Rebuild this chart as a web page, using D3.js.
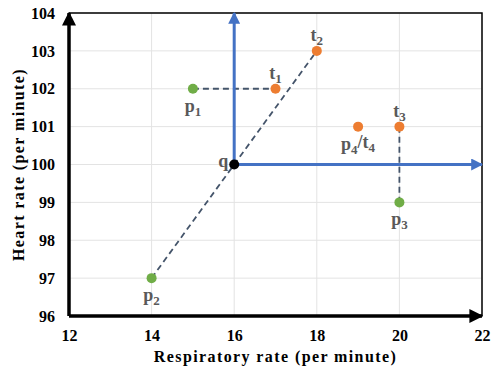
<!DOCTYPE html>
<html>
<head>
<meta charset="utf-8">
<script src="https://cdn.jsdelivr.net/npm/d3@7"></script>
<style>
  body { margin: 0; background: #fff; }
  text { font-family: "Liberation Serif", "Times New Roman", serif; font-weight: bold; }
</style>
</head>
<body>
<svg id="chart" width="498" height="374"></svg>
<script>
// tick values
const xTicks = [12, 14, 16, 18, 20, 22];
const yTicks = [96, 97, 98, 99, 100, 101, 102, 103, 104];

// original patients (green)
const pNames = ['p1', 'p2', 'p3'];
const pX = [15, 14, 20];
const pY = [102, 97, 99];

// counterfactual targets (orange)
const tNames = ['t1', 't2', 't3', 'p4/t4'];
const tX = [17, 18, 20, 19];
const tY = [102, 103, 101, 101];

// query point
const qX = 16, qY = 100;

// dashed links between points [x1, y1, x2, y2]
const links = [
  [15, 102, 17, 102],
  [14, 97, 18, 103],
  [20, 101, 20, 99]
];

const width = 498, height = 374;
const margin = { top: 13, right: 16, bottom: 58, left: 69 };

const svg = d3.select('#chart');

const x = d3.scaleLinear().domain([12, 22]).range([margin.left, width - margin.right]);
const y = d3.scaleLinear().domain([96, 104]).range([height - margin.bottom, margin.top]);

const defs = svg.append('defs');
function arrowHead(id, color) {
  defs.append('marker')
    .attr('id', id)
    .attr('viewBox', '0 0 10 10')
    .attr('refX', 9).attr('refY', 5)
    .attr('markerWidth', 4).attr('markerHeight', 4)
    .attr('orient', 'auto')
    .append('path')
    .attr('d', 'M0,0L10,5L0,10z')
    .attr('fill', color);
}
arrowHead('blackArrow', '#000');
arrowHead('blueArrow', '#4472C4');

// gridlines
svg.append('g')
  .selectAll('line')
  .data(yTicks.slice(1))
  .join('line')
  .attr('x1', x(12)).attr('x2', x(22))
  .attr('y1', d => y(d)).attr('y2', d => y(d))
  .attr('stroke', '#e3e3e3').attr('stroke-width', 1);

svg.append('g')
  .selectAll('line')
  .data(xTicks.slice(1))
  .join('line')
  .attr('x1', d => x(d)).attr('x2', d => x(d))
  .attr('y1', y(96)).attr('y2', y(104))
  .attr('stroke', '#e3e3e3').attr('stroke-width', 1);

// thin frame top + right
svg.append('path')
  .attr('d', `M${x(12)},${y(104)}H${x(22)}V${y(96)}`)
  .attr('fill', 'none')
  .attr('stroke', '#000')
  .attr('stroke-width', 1.5);

// axes (ticks as text only)
const xAxis = svg.append('g')
  .attr('transform', `translate(0,${y(96)})`)
  .call(d3.axisBottom(x).tickValues(xTicks).tickSize(0).tickPadding(14));
const yAxis = svg.append('g')
  .attr('transform', `translate(${x(12)},0)`)
  .call(d3.axisLeft(y).tickValues(yTicks).tickSize(0).tickPadding(14));
[xAxis, yAxis].forEach(g => {
  g.select('.domain').remove();
  g.selectAll('text').attr('font-size', 16).attr('fill', '#000')
    .style('font-family', '"Liberation Serif", serif').style('font-weight', 'bold');
});

// thick black axis lines with arrows
svg.append('line')
  .attr('x1', x(12)).attr('y1', y(96))
  .attr('x2', x(22)).attr('y2', y(96))
  .attr('stroke', '#000').attr('stroke-width', 3.5)
  .attr('marker-end', 'url(#blackArrow)');
svg.append('line')
  .attr('x1', x(12)).attr('y1', y(96))
  .attr('x2', x(12)).attr('y2', y(104))
  .attr('stroke', '#000').attr('stroke-width', 3.5)
  .attr('marker-end', 'url(#blackArrow)');

// dashed links
svg.append('g')
  .selectAll('line')
  .data(links)
  .join('line')
  .attr('x1', d => x(d[0])).attr('y1', d => y(d[1]))
  .attr('x2', d => x(d[2])).attr('y2', d => y(d[3]))
  .attr('stroke', '#44546A')
  .attr('stroke-width', 1.8)
  .attr('stroke-dasharray', '6,4');

// blue arrows from q
svg.append('line')
  .attr('x1', x(qX)).attr('y1', y(qY))
  .attr('x2', x(qX)).attr('y2', y(104))
  .attr('stroke', '#4472C4').attr('stroke-width', 3)
  .attr('marker-end', 'url(#blueArrow)');
svg.append('line')
  .attr('x1', x(qX)).attr('y1', y(qY))
  .attr('x2', x(22)).attr('y2', y(qY))
  .attr('stroke', '#4472C4').attr('stroke-width', 3)
  .attr('marker-end', 'url(#blueArrow)');

// points
svg.append('g')
  .selectAll('circle')
  .data(pX)
  .join('circle')
  .attr('cx', d => x(d))
  .attr('cy', (d, i) => y(pY[i]))
  .attr('r', 5)
  .attr('fill', '#70AD47');

svg.append('g')
  .selectAll('circle')
  .data(tX)
  .join('circle')
  .attr('cx', d => x(d))
  .attr('cy', (d, i) => y(tY[i]))
  .attr('r', 5)
  .attr('fill', '#ED7D31');

svg.append('circle')
  .attr('cx', x(qX)).attr('cy', y(qY))
  .attr('r', 5).attr('fill', '#000');

// labels with subscripts
function label(name, px, py, anchor) {
  const t = svg.append('text')
    .attr('x', px).attr('y', py)
    .attr('text-anchor', anchor)
    .attr('font-size', 18)
    .attr('fill', '#595959');
  name.split('/').forEach((part, i) => {
    if (i > 0) t.append('tspan').attr('dy', '-0.3em').text('/');
    t.append('tspan').attr('dy', i > 0 ? '0' : null).text(part[0]);
    t.append('tspan').attr('font-size', 13).attr('dy', '0.3em').text(part.slice(1));
  });
}

pNames.forEach((n, i) => label(n, x(pX[i]), y(pY[i]) + 23, 'middle'));
tNames.forEach((n, i) => {
  if (n.includes('/')) label(n, x(tX[i]), y(tY[i]) + 23, 'middle');
  else label(n, x(tX[i]), y(tY[i]) - 10, 'middle');
});
svg.append('text')
  .attr('x', x(qX) - 6).attr('y', y(qY) + 2)
  .attr('text-anchor', 'end')
  .attr('font-size', 18)
  .attr('fill', '#595959')
  .text('q');

// axis titles
svg.append('text')
  .attr('x', (x(12) + x(22)) / 2)
  .attr('y', 362)
  .attr('text-anchor', 'middle')
  .attr('font-size', 16)
  .attr('letter-spacing', 1.4)
  .text('Respiratory rate (per minute)');

svg.append('text')
  .attr('transform', `translate(24,${(y(96) + y(104)) / 2}) rotate(-90)`)
  .attr('text-anchor', 'middle')
  .attr('font-size', 16)
  .attr('letter-spacing', 1.4)
  .text('Heart rate (per minute)');
</script>
</body>
</html>
